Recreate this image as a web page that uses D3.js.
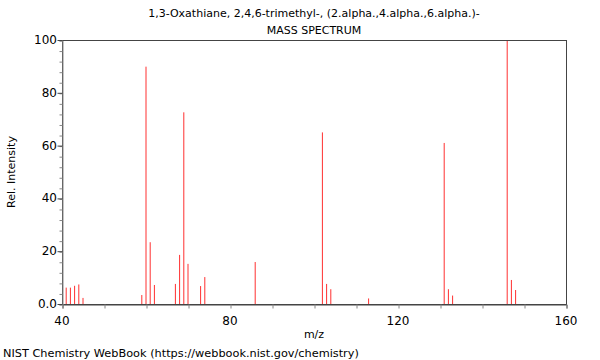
<!DOCTYPE html>
<html>
<head>
<meta charset="utf-8">
<script src="https://cdn.jsdelivr.net/npm/d3@7"></script>
<style>
  body { margin: 0; background: #fff; }
  text { font-family: "DejaVu Sans", sans-serif; fill: #000; }
</style>
</head>
<body>
<div id="chart"></div>
<script>
// Mass spectrum peaks
const mz = [41, 42, 43, 44, 45, 59, 60, 61, 62, 67, 68, 69, 70, 73, 74, 86, 102, 103, 104, 113, 131, 132, 133, 146, 147, 148]
const intensity = [6.2, 6.2, 6.9, 7.4, 2.3, 3.4, 89.9, 23.4, 7.2, 7.6, 18.6, 72.6, 15.2, 6.8, 10.2, 15.9, 65.0, 7.6, 5.6, 2.1, 61.0, 5.6, 3.2, 100, 9.1, 5.3]
const xLabels = [40, 80, 120, 160]
const yLabels = [0, 20, 40, 60, 80, 100]
const titleLines = ["1,3-Oxathiane, 2,4,6-trimethyl-, (2.alpha.,4.alpha.,6.alpha.)-", "MASS SPECTRUM"]

const width = 600, height = 360
const margin = { top: 40, right: 34, bottom: 56, left: 62 }
const innerW = width - margin.left - margin.right
const innerH = height - margin.top - margin.bottom

const svg = d3.select("#chart").append("svg")
  .attr("width", width)
  .attr("height", height)

const x = d3.scaleLinear().domain([40, 160]).range([margin.left, margin.left + innerW])
const y = d3.scaleLinear().domain([0, 100]).range([margin.top + innerH, margin.top])

// Titles
titleLines.forEach((t, i) => {
  svg.append("text")
    .attr("x", margin.left + innerW / 2)
    .attr("y", 17 + i * 17)
    .attr("text-anchor", "middle")
    .style("font-size", "11px")
    .text(t)
})

// Peaks
svg.append("g").selectAll("line")
  .data(mz.map((m, i) => ({ m, v: intensity[i] })))
  .enter().append("line")
  .attr("x1", d => x(d.m))
  .attr("x2", d => x(d.m))
  .attr("y1", y(0))
  .attr("y2", d => y(d.v))
  .attr("stroke", "#ff3030")
  .attr("stroke-width", 1)

// Frame
svg.append("rect")
  .attr("x", margin.left + 0.5)
  .attr("y", margin.top + 0.5)
  .attr("width", innerW)
  .attr("height", innerH)
  .attr("fill", "none")
  .attr("stroke", "#444")

// X axis: minor ticks every 10, labels every 40
const xAxis = svg.append("g").attr("transform", `translate(0.5,${y(0) + 0.5})`)
xAxis.call(d3.axisBottom(x).tickValues(d3.range(40, 161, 10)).tickSize(4).tickFormat(""))
xAxis.call(g => g.select(".domain").attr("stroke", "#444"))
xAxis.selectAll(".tick line").attr("stroke", "#888")
svg.append("g").selectAll("text")
  .data(xLabels).enter().append("text")
  .attr("x", d => x(d))
  .attr("y", y(0) + 21)
  .attr("text-anchor", "middle")
  .style("font-size", "12px")
  .text(d => d)

// Y axis: minor ticks every 4, labels every 20
const yAxis = svg.append("g").attr("transform", `translate(${margin.left + 0.5},0.5)`)
yAxis.call(d3.axisLeft(y).tickValues(d3.range(0, 101, 4)).tickSize(3).tickFormat(""))
yAxis.call(g => g.select(".domain").attr("stroke", "#888"))
yAxis.selectAll(".tick line").attr("stroke", "#888")
yAxis.append("g").selectAll("line")
  .data(yLabels).enter().append("line")
  .attr("x1", -5).attr("x2", 0)
  .attr("y1", d => y(d)).attr("y2", d => y(d))
  .attr("stroke", "#444")
svg.append("g").selectAll("text")
  .data(yLabels).enter().append("text")
  .attr("x", margin.left - 5)
  .attr("y", d => y(d) + 4)
  .attr("text-anchor", "end")
  .style("font-size", "12px")
  .text(d => d === 0 ? "0.0" : d)

// Axis titles
svg.append("text")
  .attr("x", margin.left + innerW / 2)
  .attr("y", 338)
  .attr("text-anchor", "middle")
  .style("font-size", "11px")
  .text("m/z")

svg.append("text")
  .attr("transform", `translate(15,${margin.top + innerH / 2}) rotate(-90)`)
  .attr("text-anchor", "middle")
  .style("font-size", "11px")
  .text("Rel. Intensity")

svg.append("text")
  .attr("x", 3)
  .attr("y", 357)
  .style("font-size", "11.3px")
  .text("NIST Chemistry WebBook (https://webbook.nist.gov/chemistry)")
</script>
</body>
</html>
